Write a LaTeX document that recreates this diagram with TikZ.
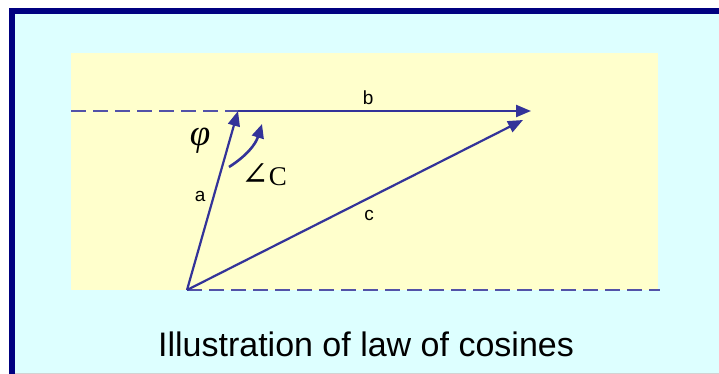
\documentclass[tikz,border=0pt]{standalone}
\usepackage{fontspec}
\setmainfont{Liberation Serif}
\setsansfont{Liberation Sans}
\newfontfamily\symbfont{DejaVu Serif}
\usepackage{tikz}
\usetikzlibrary{arrows.meta, positioning}
\definecolor{C_FRAME}{HTML}{000080}
\definecolor{C_BG}   {HTML}{DDFFFF}
\definecolor{C_PANEL}{HTML}{FFFFCC}
\definecolor{C_VEC}  {HTML}{333399}
\tikzset{
  %% -- side vector --
  LC/vec/.style={-{Triangle[length=15pt,width=12pt]}, line width=2.2pt, color=C_VEC},
  %% -- dashed reference line --
  LC/ref/.style={line width=2.2pt, color=C_VEC!85, dash pattern=on 15pt off 7pt},
  %% -- side label --
  LC/lbl/.style={font=\fontsize{19}{21}\selectfont\sffamily, text=black, inner sep=0pt},
  %% -- angle label --
  LC/ang/.style={font=\fontsize{27}{30}\selectfont, text=black, inner sep=0pt},
  %% -- caption --
  LC/cap/.style={font=\fontsize{34}{38}\selectfont\sffamily, text=black, inner sep=0pt},
}

\begin{document}
\begin{tikzpicture}[x=1pt, y=-1pt]
\useasboundingbox (0,0) rectangle (719,374);

%% Frame and panels
\fill[C_FRAME] (9,8) rectangle (730,380);
\fill[C_BG] (15,14) rectangle (730,373);
\draw[gray!35, line width=1pt] (15,373.5) -- (730,373.5);
\fill[C_PANEL] (71,53) rectangle (658,290);

%% Vertices
\coordinate (A)  at (187,290);
\coordinate (P)  at (238,111);
\coordinate (Q)  at (531,111);
\coordinate (Qc) at (523,120);
\coordinate (L)  at (71,111);
\coordinate (R)  at (660,290);
\coordinate (Cs) at (229,167);
\coordinate (Ce) at (262,124);

%% Reference lines
\draw[LC/ref] (L) -- (P);
\draw[LC/ref] (A) -- (R);

%% Sides a, b, c
\draw[LC/vec] (A) -- node[LC/lbl, pos=0.52, left=7pt] (lblA) {a} (P);
\draw[LC/vec] (P) -- node[LC/lbl, pos=0.444, above=5pt] (lblB) {b} (Q);
\draw[LC/vec] (A) -- node[LC/lbl, pos=0.542, below=11pt] (lblC) {c} (Qc);

%% Angles
\draw[LC/vec, line width=2.6pt, -{Triangle[length=14pt,width=12pt]}] (Cs) to[bend right=20] (Ce);
\node[LC/ang] (phi)  at (200,141) {\fontsize{37}{40}\selectfont\itshape φ};
\node[LC/ang] (angC) at (264,175) {{\fontsize{33}{36}\selectfont\symbfont ∠}C};

%% Caption
\node[LC/cap, anchor=base] (cap) at (366,356) {Illustration of law of cosines};
\end{tikzpicture}
\end{document}
